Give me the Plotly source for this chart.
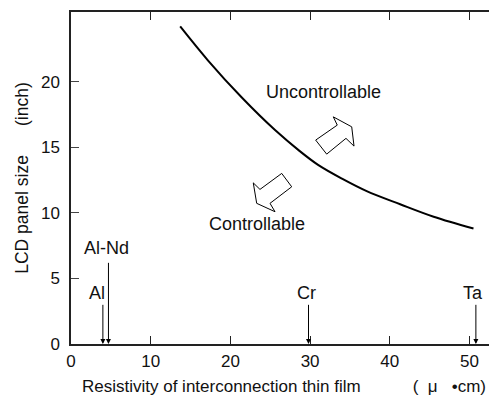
import plotly.graph_objects as go

# ---- data ----
resistivity = [13.7, 17.2, 21.4, 25.6, 28.7, 31.0, 34.0, 37.1, 41.3, 45.5, 50.5]
panel_size = [24.2, 21.6, 18.8, 16.3, 14.7, 13.65, 12.6, 11.65, 10.65, 9.7, 8.8]

materials = ["Al", "Al-Nd", "Cr", "Ta"]
material_rho = [4.0, 4.7, 29.8, 50.8]
arrow_top = [3.1, 6.3, 3.1, 3.1]

x_ticks = [0, 10, 20, 30, 40, 50]
y_ticks = [0, 5, 10, 15, 20]

X_MAX = 53.45
Y_MAX = 25.3

FONT = "Liberation Sans, Arial, Helvetica, sans-serif"
NB = "\u00a0"

fig = go.Figure()
fig.add_trace(go.Scatter(x=resistivity, y=panel_size, mode="lines",
                         line=dict(color="black", width=2, shape="spline", smoothing=1.0),
                         showlegend=False, hoverinfo="skip"))
fig.add_trace(go.Scatter(x=[None], y=[None], yaxis="y2", showlegend=False, hoverinfo="skip"))

annotations = []
label_shift = {"Al": (-6, -2), "Al-Nd": (-2, 1), "Cr": (-2, -2), "Ta": (-3, -2)}
for name, rho, top in zip(materials, material_rho, arrow_top):
    annotations.append(dict(x=rho, y=0, ax=rho, ay=top, xref="x", yref="y", axref="x", ayref="y",
                            text="", showarrow=True, arrowhead=2, arrowsize=1.0, arrowwidth=1,
                            arrowcolor="black", standoff=0, startstandoff=0))
    dx, dy = label_shift[name]
    annotations.append(dict(x=rho, y=top, xref="x", yref="y", text=name, showarrow=False,
                            yanchor="bottom", xanchor="center", xshift=dx, yshift=dy,
                            font=dict(family=FONT, size=18, color="#111")))

annotations.append(dict(x=31.74, y=19.2, xref="x", yref="y", text="Uncontrollable", showarrow=False,
                        font=dict(family=FONT, size=18, color="#111")))
annotations.append(dict(x=23.3, y=9.15, xref="x", yref="y", text="Controllable", showarrow=False,
                        font=dict(family=FONT, size=18, color="#111")))

def block_arrow(pts):
    d = "M " + " L ".join(f"{x},{y}" for x, y in pts) + " Z"
    return dict(type="path", path=d, xref="x", yref="y",
                line=dict(color="black", width=1), fillcolor="white")

up_arrow = [(30.70, 15.54), (33.41, 16.68), (32.91, 17.31), (35.22, 16.55),
            (35.51, 15.08), (34.50, 15.67), (32.08, 14.47)]
down_arrow = [(26.44, 13.00), (23.71, 11.78), (22.87, 12.28), (23.30, 10.72),
              (25.60, 10.08), (24.97, 10.72), (27.69, 11.98)]

# page body has an 8px default margin, so the figure is sized/offset to compensate
fig.update_layout(
    width=489, height=393,
    margin=dict(l=63, r=0, t=4, b=57),
    paper_bgcolor="white", plot_bgcolor="white",
    font=dict(family=FONT, size=17, color="#111"),
    showlegend=False,
    annotations=annotations,
    shapes=[block_arrow(up_arrow), block_arrow(down_arrow)],
    xaxis=dict(range=[0, X_MAX], tickvals=x_ticks, ticks="inside", ticklen=8, tickcolor="#222",
               showline=True, linecolor="#222", linewidth=1.5, mirror="ticks", showgrid=False,
               zeroline=False, tickfont=dict(size=17), ticklabelstandoff=1, automargin=False,
               title=dict(text="Resistivity of interconnection thin film" + NB * 11 + "(" + NB * 2 + "μ" + NB * 3 + "•cm)",
                          font=dict(size=17), standoff=10)),
    yaxis=dict(range=[0, Y_MAX], tickvals=y_ticks, ticks="inside", ticklen=8, tickcolor="#444",
               showline=True, linecolor="#222", linewidth=1.5, mirror=False, showgrid=False,
               zeroline=False, tickfont=dict(size=17), ticklabelstandoff=6, automargin=False,
               title=dict(text="LCD panel size" + NB * 6 + "(inch)", font=dict(size=17.5), standoff=8)),
    yaxis2=dict(range=[0, Y_MAX], tickvals=y_ticks, ticks="inside", ticklen=7, tickcolor="#444",
                overlaying="y", side="right", showline=False, showticklabels=False,
                showgrid=False, zeroline=False),
)

fig.write_html("out.html")
